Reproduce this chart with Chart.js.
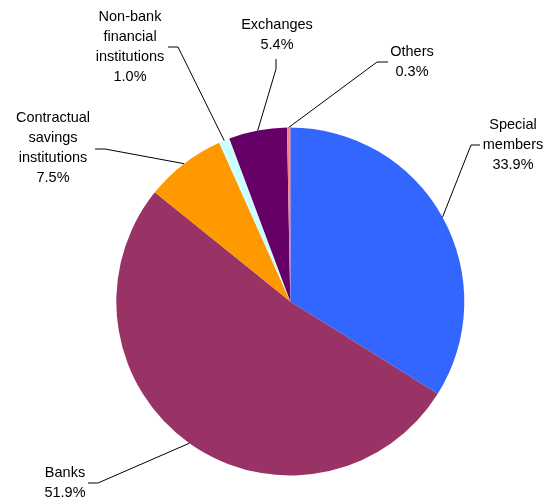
<!DOCTYPE html>
<html>
<head>
<meta charset="utf-8">
<script src="https://cdn.jsdelivr.net/npm/chart.js@4/dist/chart.umd.min.js"></script>
<style>
  html, body { margin: 0; padding: 0; background: #fff; }
  #pie { display: block; }
</style>
</head>
<body>
<canvas id="pie" width="549" height="502"></canvas>
<script>
// slice names (already split into the lines shown on the picture) and shares in %
const categories = [
  ['Special', 'members'],
  ['Banks'],
  ['Contractual', 'savings', 'institutions'],
  ['Non-bank', 'financial', 'institutions'],
  ['Exchanges'],
  ['Others']
];
const shares = [33.9, 51.9, 7.5, 1.0, 5.4, 0.3];
const colors = ['#3366FF', '#993366', '#FF9900', '#CCFFFF', '#660066', '#FF8080'];

// where each label block sits and where its leader line leaves the text
// text: centre x, y of first line; stub: start point then bend point
const labelLayout = [
  { x: 513, y: 125, stub: [480, 145, 471, 145] },
  { x: 65,  y: 473, stub: [88, 483, 98, 483] },
  { x: 53,  y: 118, stub: [95, 149, 105, 149] },
  { x: 130, y: 17,  stub: [168, 47, 178, 47] },
  { x: 277, y: 25,  stub: [276, 59, 276, 69] },
  { x: 412, y: 52,  stub: [388, 62, 377, 62] }
];
const lineGap = 20;

const leaderLabels = {
  id: 'leaderLabels',
  afterDatasetsDraw(chart) {
    const ctx = chart.ctx;
    const meta = chart.getDatasetMeta(0);
    ctx.save();
    meta.data.forEach((arc, i) => {
      const p = arc.getProps(['x', 'y', 'startAngle', 'endAngle', 'outerRadius'], true);
      const mid = (p.startAngle + p.endAngle) / 2;
      const ex = p.x + Math.cos(mid) * p.outerRadius;
      const ey = p.y + Math.sin(mid) * p.outerRadius;
      const L = labelLayout[i];

      ctx.strokeStyle = '#000';
      ctx.lineWidth = 1;
      ctx.beginPath();
      ctx.moveTo(L.stub[0], L.stub[1]);
      ctx.lineTo(L.stub[2], L.stub[3]);
      ctx.lineTo(ex, ey);
      ctx.stroke();

      const lines = categories[i].concat([shares[i].toFixed(1) + '%']);
      ctx.fillStyle = '#000';
      ctx.font = '14.5px "Liberation Sans", Arial, sans-serif';
      ctx.textAlign = 'center';
      ctx.textBaseline = 'middle';
      lines.forEach((t, k) => ctx.fillText(t, L.x, L.y + k * lineGap));
    });
    ctx.restore();
  }
};

new Chart(document.getElementById('pie'), {
  type: 'pie',
  data: {
    labels: categories.map(c => c.join(' ')),
    datasets: [{
      data: shares,
      backgroundColor: colors,
      borderWidth: 0
    }]
  },
  options: {
    responsive: false,
    animation: false,
    layout: {
      padding: { left: 116.3, right: 84.7, top: 127.5, bottom: 26.5 }
    },
    plugins: {
      legend: { display: false },
      tooltip: { enabled: false }
    }
  },
  plugins: [leaderLabels]
});
</script>
</body>
</html>
